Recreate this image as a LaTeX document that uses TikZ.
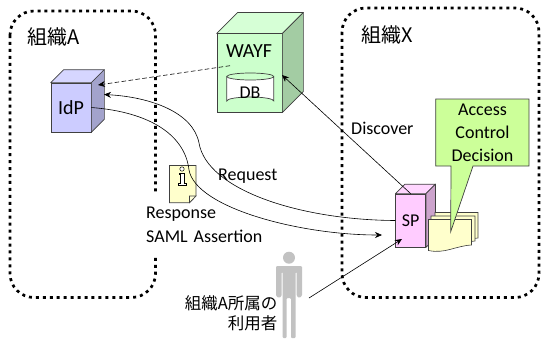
\documentclass[tikz,border=0pt]{standalone}
\usepackage{fontspec}
\setmainfont{Carlito}
\newfontfamily\jpfont{Noto Sans CJK JP}
\usetikzlibrary{calc,arrows.meta}
\definecolor{edgegray}{HTML}{404040}
\definecolor{idpfront}{HTML}{CCCCFF}
\definecolor{idptop}{HTML}{D6D6FF}
\definecolor{idpside}{HTML}{A3A3CC}
\definecolor{wayffront}{HTML}{CCFFCC}
\definecolor{wayftop}{HTML}{D6FFD6}
\definecolor{wayfside}{HTML}{A3CCA3}
\definecolor{spfront}{HTML}{FFCCFF}
\definecolor{sptop}{HTML}{FFD6FF}
\definecolor{spside}{HTML}{CCA3CC}
\definecolor{notefill}{HTML}{FFFFCC}
\definecolor{boxfill}{HTML}{CCFF99}
\tikzset{
  orgbox/.style={line width=2.7pt,dash pattern=on 3pt off 3.95pt,rounded corners=24pt},
  front/.style={draw=edgegray,line width=.7pt,inner sep=0pt},
  lab/.style={inner sep=0pt,font=\fontsize{18}{23}\selectfont},
  jplab/.style={inner sep=0pt,font=\jpfont\fontsize{20}{23}\selectfont},
  page/.style={draw=edgegray,line width=.6pt,fill=notefill},
  personpart/.style={fill=black!24,draw=none},
  flow/.style={->,line width=.6pt},
}
% cube faces behind a front node: name, depth, top colour, side colour
\newcommand{\cubefaces}[4]{
  \draw[edgegray,line width=.7pt,fill=#3,line join=round](#1.north west)--++(#2,-#2)--($(#1.north east)+(#2,-#2)$)--(#1.north east)--cycle;
  \draw[edgegray,line width=.7pt,fill=#4,line join=round](#1.north east)--++(#2,-#2)--($(#1.south east)+(#2,-#2)$)--(#1.south east)--cycle;
}
\begin{document}
\begin{tikzpicture}[x=1pt,y=-1pt,>={Stealth[length=7pt,width=6pt]}]
\useasboundingbox(0,0) rectangle (541,338);
\draw[orgbox](10,11) rectangle (155.5,297.5);
\draw[orgbox](342,8) rectangle (539,297.5);
\node[jplab,anchor=west](orgA) at (27,37){組織A};
\node[jplab,anchor=west](orgX) at (361,35){組織X};
% left server
\node[front,fill=idpfront,minimum width=40pt,minimum height=49pt,lab,font=\fontsize{20}{23}\selectfont](idp) at (71,107.5){IdP};
\cubefaces{idp}{13}{idptop}{idpside}
% middle server
\node[front,fill=wayffront,minimum width=65pt,minimum height=78.5pt](wayf) at (249.5,73){};
\cubefaces{wayf}{21}{wayftop}{wayfside}
\node[lab,font=\fontsize{20}{23}\selectfont](wayflab) at (249,51){WAYF};
\draw[edgegray,line width=.7pt,fill=white](226.8,76.5) arc (180:0:23.5 and 3.5)--(273.8,101) arc (0:-180:23.5 and 4)--cycle;
\draw[edgegray,line width=.7pt](226.8,76.5) arc (180:360:23.5 and 3.5);
\node[lab](db) at (250,92.5){DB};
% right server
\node[front,fill=spfront,minimum width=30pt,minimum height=53pt,lab](sp) at (410.7,220.5){SP};
\cubefaces{sp}{9.5}{sptop}{spside}
% pages next to it
\draw[page](435,212.5)--(478,212.5)--(478,238)..controls (465,240) and (450,238) .. (435,240)--cycle;
\draw[page](431,216)--(475,216)--(475,241)..controls (460,243) and (445,243) .. (431,245)--cycle;
\draw[page](428.5,219.5)--(471.5,219.5)--(471.5,245)..controls (455,246) and (445,254) .. (428.5,250.5)--cycle;
% speech box
\draw[edgegray,line width=.7pt,fill=boxfill](435.7,99)--(529,99)--(529,166)--(473,166)--(450.7,231.7)--(451,166)--(435.7,166)--cycle;
\node[lab,align=center](acd) at (482.5,132.5){Access\\[0pt]Control\\[0pt]Decision};
% labels
\node[lab,anchor=west](discover) at (351,128){Discover};
\node[lab,anchor=west](request) at (218,176){Request};
\node[lab,anchor=west,align=left,fill=white,minimum height=60pt,inner xsep=1pt,text width=122pt](resp) at (145,225){Response\\[1pt]SAML Assertion};
% small note
\draw[draw=edgegray,line width=.6pt,fill=notefill](169.5,165.5)--(196,165.5)--(196,196)--(189.5,202.7)--(169.5,202.7)--cycle;
\draw[draw=edgegray,line width=.6pt,fill=notefill!70](196,196)--(189.5,196)--(189.5,202.7)--cycle;
\draw[black,line width=.5pt,fill=white](182,169) circle(2.2);
\draw[black,line width=.5pt,fill=white](179.5,173)--(184.5,173)--(184.5,183.5)--(186.5,183.5)--(186.5,185.5)--(178,185.5)--(178,183.5)--(180.5,183.5)--(180.5,174.5)--(179.5,174.5)--cycle;
% person
\fill[personpart](289,257.7) circle(6);
\fill[personpart,rounded corners=1pt](276,266)--(302,266)--(302,296)--(299,298)--(296.7,296)--(296.7,272)--(295.7,272)--(295.7,338)--(291,338)--(291,298)--(286.7,298)--(286.7,338)--(282.7,338)--(282.7,272)--(281.7,272)--(281.7,296)--(279,298)--(276,296)--cycle;
\node[inner sep=0pt,anchor=east,align=right,font=\jpfont\fontsize{16.5}{20}\selectfont](user) at (277.5,313){組織A所属の\\利用者};
% connectors
\coordinate(wayfdash) at (230,65.7);
\coordinate(idpdash) at (98,85);
\coordinate(idptip) at (104,94.5);
\coordinate(reqmid) at (199,143);
\coordinate(respmid) at (189,170);
\coordinate(resptip) at (382,235);
\coordinate(wayftip) at (282,75);
\coordinate(userfoot) at (309,298);
\coordinate(sptip) at (402,239);
\draw[flow,dash pattern=on 4.5pt off 2.5pt](wayfdash)--(idpdash);
\draw[flow](sp.west) .. controls (300,220) and (207,190) .. (reqmid) .. controls (193,112) and (150,97) .. (idptip);
\draw[flow](idp.east) .. controls (150,112) and (185,135) .. (respmid) .. controls (196,208) and (300,235) .. (resptip);
\draw[flow](sp.north)--(wayftip);
\draw[flow](userfoot)--(sptip);
\end{tikzpicture}
\end{document}
